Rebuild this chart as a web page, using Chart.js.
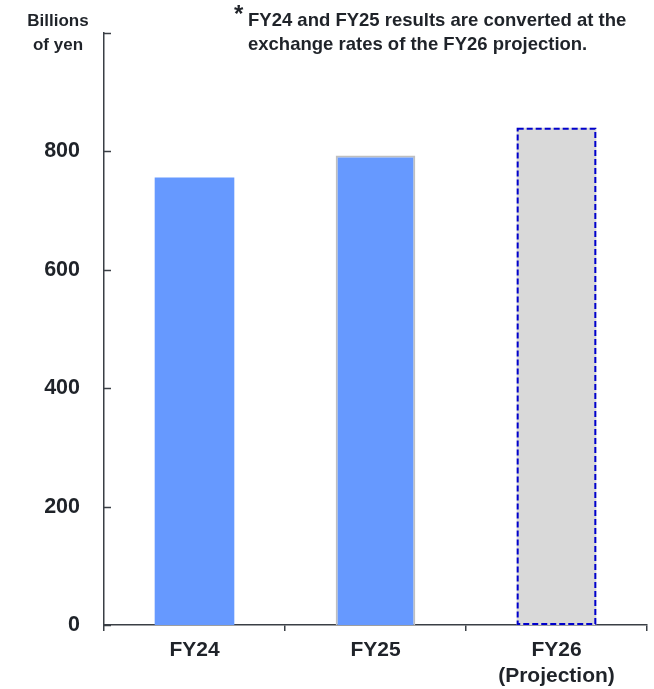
<!DOCTYPE html>
<html>
<head>
<meta charset="utf-8">
<script src="https://cdn.jsdelivr.net/npm/chart.js@4.4.1/dist/chart.umd.min.js"></script>
<style>
    body { margin: 0; background: #fff; }
    #wrap { position: relative; width: 654px; height: 689px; }
    #chart { position: absolute; left: 0; top: 0; }
    .note {
        position: absolute;
        font-family: "Liberation Sans", Arial, sans-serif;
        font-weight: bold;
        color: #1f2329;
        white-space: nowrap;
    }
    #unit { left: 0; top: 9px; width: 116px; text-align: center; font-size: 17px; line-height: 24px; }
    #footnote { left: 248px; top: 8px; font-size: 18.5px; line-height: 24px; }
    #star { left: 234px; top: 0px; font-size: 24px; line-height: 28px; }
</style>
</head>
<body>
<div id="wrap">
    <canvas id="chart" width="654" height="689"></canvas>
    <div class="note" id="unit">Billions<br>of yen</div>
    <div class="note" id="star">*</div>
    <div class="note" id="footnote">FY24 and FY25 results are converted at the<br>exchange rates of the FY26 projection.</div>
</div>
<script>
const categories = [['FY24'], ['FY25'], ['FY26', '(Projection)']];
const values = [756, 793, 840];
const yTicks = [0, 200, 400, 600, 800, 1000];

const barColors = ['#6699ff', '#6699ff', '#d9d9d9'];
const borderColors = ['#6699ff', '#bfbfbf', '#d9d9d9'];
const borderWidths = [0, 2, 0];

const textColor = '#1f2329';
const axisColor = '#3a3f45';
const fontFamily = '"Liberation Sans", Arial, sans-serif';

// inward tick marks on the value axis
const yTickMarks = {
    id: 'yTickMarks',
    afterDraw(chart) {
        const ctx = chart.ctx;
        const y = chart.scales.y;
        ctx.save();
        ctx.strokeStyle = axisColor;
        ctx.lineWidth = 1.5;
        yTicks.forEach(v => {
            const py = Math.round(y.getPixelForValue(v)) + 0.5;
            ctx.beginPath();
            ctx.moveTo(y.right, py);
            ctx.lineTo(y.right + 7, py);
            ctx.stroke();
        });
        ctx.restore();
    }
};

// dashed outline for the projection bar
const dashedBar = {
    id: 'dashedBar',
    afterDatasetsDraw(chart) {
        const bar = chart.getDatasetMeta(0).data[2];
        const ctx = chart.ctx;
        const left = bar.x - bar.width / 2;
        ctx.save();
        ctx.strokeStyle = '#0000cc';
        ctx.lineWidth = 2;
        ctx.setLineDash([6, 3]);
        ctx.strokeRect(left + 1, bar.y + 1, bar.width - 2, bar.base - bar.y - 2);
        ctx.restore();
    }
};

new Chart(document.getElementById('chart'), {
    type: 'bar',
    data: {
        labels: categories,
        datasets: [{
            data: values,
            backgroundColor: barColors,
            borderColor: borderColors,
            borderWidth: borderWidths,
            barPercentage: 0.44,
            categoryPercentage: 1
        }]
    },
    options: {
        responsive: false,
        animation: false,
        layout: { padding: { top: 33, right: 7, left: 0, bottom: 0 } },
        plugins: {
            legend: { display: false },
            tooltip: { enabled: false }
        },
        scales: {
            x: {
                grid: {
                    display: true,
                    drawOnChartArea: false,
                    offset: true,
                    tickLength: 6,
                    color: axisColor,
                    lineWidth: 1.5
                },
                border: { display: true, color: axisColor, width: 1.5 },
                ticks: {
                    color: textColor,
                    padding: 7,
                    font: { family: fontFamily, size: 21, weight: 'bold', lineHeight: 1.2 }
                },
                afterFit(scale) { scale.height = 64; }
            },
            y: {
                min: 0,
                max: 1000,
                grid: { display: false },
                border: { display: true, color: axisColor, width: 1.5 },
                ticks: {
                    stepSize: 200,
                    padding: 16,
                    color: textColor,
                    font: { family: fontFamily, size: 21.5, weight: 'bold' },
                    callback: v => (v === 1000 ? '' : v)
                },
                afterFit(scale) { scale.width = 104; }
            }
        }
    },
    plugins: [yTickMarks, dashedBar]
});
</script>
</body>
</html>
